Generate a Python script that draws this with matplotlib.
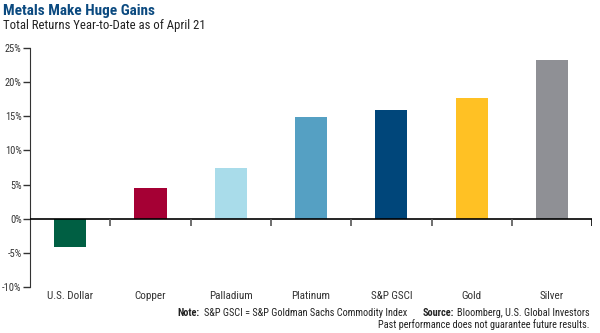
import matplotlib.pyplot as plt
import numpy as np

# ----------------------------------
# DATA
# ----------------------------------

categories = ['U.S. Dollar', 'Copper', 'Palladium', 'Platinum', 'S&P GSCI', 'Gold', 'Silver']
returns = [-4.2, 4.5, 7.4, 14.9, 15.9, 17.7, 23.2]
colors = ['#005f43', '#a50034', '#a9dcea', '#55a0c3', '#00467a', '#ffc124', '#8f9095']
yticks = [-10, -5, 0, 5, 10, 15, 20, 25]

plt.rcParams['font.family'] = ['Roboto Condensed', 'Roboto', 'DejaVu Sans']

fig = plt.figure(figsize=(6, 3.33), dpi=100)
ax = fig.add_axes([0.05, 0.138, 0.937, 0.718])

x = np.arange(len(categories))
ax.bar(x, returns, width=0.4, color=colors, zorder=2)

ax.axhline(0, color='black', linewidth=1.2, zorder=3)
ax.vlines(x[:-1] + 0.5, -1.0, 0, color='#555555', linewidth=1.2, zorder=3)
ax.vlines([x[-1] + 0.5], -1.0, 0, color='black', linewidth=1.2, zorder=3)

ax.set_xlim(-0.5, len(categories) - 0.5)
ax.set_ylim(-10, 25)
ax.set_yticks(yticks)
ax.set_yticklabels([f'{v}%' for v in yticks], fontsize=7.5, color='#333333')
ax.set_xticks(x)
ax.set_xticklabels(categories, fontsize=8, color='#333333')
ax.tick_params(axis='x', length=0, pad=3)
ax.tick_params(axis='y', length=5, width=1, color='#333333', pad=1)

for s in ['top', 'right', 'bottom']:
    ax.spines[s].set_visible(False)
ax.spines['left'].set_color('#333333')

# ----------------------------------
# TEXT
# ----------------------------------

fig.text(0.005, 0.968, 'Metals Make Huge Gains', fontsize=11, fontweight='bold',
         color='#0b4a80', va='center')
fig.text(0.005, 0.922, 'Total Returns Year-to-Date as of April 21', fontsize=9.2,
         color='#222222', va='center')

# footnote line, built right to left
renderer = fig.canvas.get_renderer()
fs = 7.4
right = 0.983
parts = [('Bloomberg, U.S. Global Investors', 'normal', 0.0),
         ('Source:', 'bold', 3.0),
         ('S&P GSCI = S&P Goldman Sachs Commodity Index', 'normal', 16.0),
         ('Note:', 'bold', 4.0)]
x_px = right * fig.bbox.width
for txt, wt, gap in parts:
    x_px -= gap
    t = fig.text(x_px / fig.bbox.width, 0.06, txt, fontsize=fs, fontweight=wt,
                 color='#222222', va='center', ha='right')
    x_px -= t.get_window_extent(renderer).width

fig.text(right, 0.025, 'Past performance does not guarantee future results.', fontsize=fs,
         color='#222222', va='center', ha='right')

plt.savefig('out.png', dpi=100)
plt.close()
